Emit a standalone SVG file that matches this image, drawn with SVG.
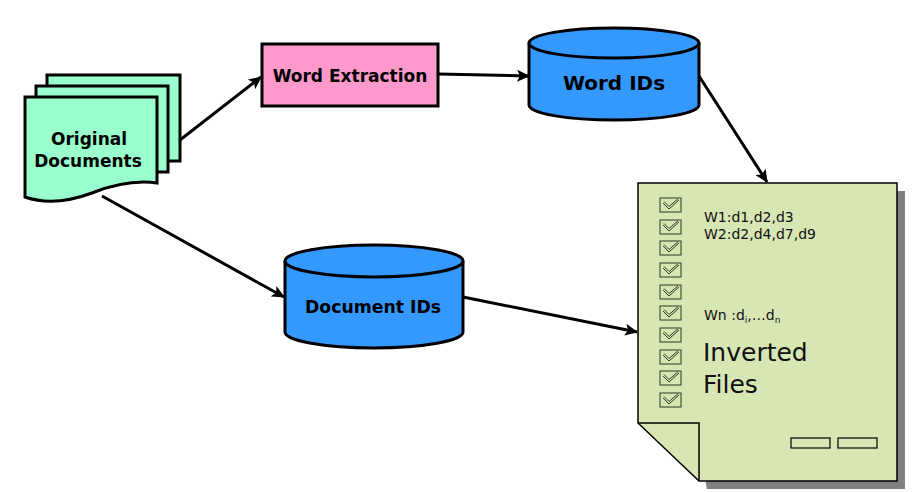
<svg xmlns="http://www.w3.org/2000/svg" width="913" height="492" viewBox="0 0 913 492">
<style>
.doc{fill:#99FFCC;stroke:#000;stroke-width:3}
.b{font-family:"DejaVu Sans",sans-serif;font-weight:bold;fill:#000;text-anchor:middle}
.r{font-family:"DejaVu Sans",sans-serif;fill:#111}
.cyl{fill:#3399FF;stroke:#000;stroke-width:3}
.edge{stroke:#000;stroke-width:3;fill:none;marker-end:url(#ah)}
.cb{fill:none;stroke:#2a3a20;stroke-width:1}
</style>
<defs>
<marker id="ah" markerUnits="userSpaceOnUse" markerWidth="14" markerHeight="12" refX="12" refY="6" orient="auto">
<path d="M0,0 L13,6 L0,12 L3,6 Z" fill="#000"/>
</marker>
<g id="chk">
<rect x="0" y="0" width="21" height="14" class="cb"/>
<path d="M3,5 L9,11 L19,2 M4,3.5 L9,8.5 L18,0.8" class="cb"/>
</g>
</defs>
<rect width="913" height="492" fill="#fff"/>

<g id="connectors">
<line x1="180" y1="140" x2="261" y2="77" class="edge"/>
<line x1="438" y1="74" x2="529" y2="76" class="edge"/>
<line x1="699" y1="76" x2="767" y2="182" class="edge"/>
<line x1="102" y1="196" x2="284" y2="297" class="edge"/>
<line x1="463" y1="297" x2="637" y2="332" class="edge"/>
</g>

<g id="original-documents">
<rect x="47" y="75" width="133" height="86" class="doc"/>
<rect x="36" y="86" width="132" height="86" class="doc"/>
<path d="M25,97 H157 V183 C135,180 115,184 92,193 C65,203 42,203 25,197 Z" class="doc"/>
<text class="b" font-size="17" x="89" y="145">Original</text>
<text class="b" font-size="17" x="88" y="167">Documents</text>
</g>

<g id="word-extraction">
<rect x="262" y="44" width="176" height="62" fill="#FF99CC" stroke="#000" stroke-width="3"/>
<text class="b" font-size="17" x="350" y="82">Word Extraction</text>
</g>

<g id="word-ids">
<path d="M529,43 V105 A85,15 0 0 0 699,105 V43" class="cyl"/>
<ellipse cx="614" cy="43" rx="85" ry="15" class="cyl"/>
<text class="b" font-size="20" x="614" y="90">Word IDs</text>
</g>

<g id="document-ids">
<path d="M285,261 V332 A89,16 0 0 0 463,332 V261" class="cyl"/>
<ellipse cx="374" cy="261" rx="89" ry="16" class="cyl"/>
<text class="b" font-size="17.3" x="373" y="313">Document IDs</text>
</g>

<g id="inverted-files">
<path d="M646,191 H905 V489 H707 Z" fill="#808080"/>
<path d="M638,183 H897 V481 H699 L638,423 Z" fill="#D8E6B4" stroke="#000" stroke-width="1.5"/>
<path d="M638,423 H699 V481" fill="none" stroke="#000" stroke-width="1.5"/>
<use href="#chk" x="660" y="198"/>
<use href="#chk" x="660" y="220"/>
<use href="#chk" x="660" y="241"/>
<use href="#chk" x="660" y="263"/>
<use href="#chk" x="660" y="285"/>
<use href="#chk" x="660" y="306"/>
<use href="#chk" x="660" y="328"/>
<use href="#chk" x="660" y="350"/>
<use href="#chk" x="660" y="371"/>
<use href="#chk" x="660" y="393"/>
<text class="r" font-size="14" x="704" y="222">W1:d1,d2,d3</text>
<text class="r" font-size="14" x="704" y="239">W2:d2,d4,d7,d9</text>
<text class="r" font-size="14" x="704" y="320">Wn :d<tspan font-size="9" dy="3">i</tspan><tspan dy="-3">,…d</tspan><tspan font-size="9" dy="3">n</tspan></text>
<text class="r" font-size="25" x="703" y="361">Inverted</text>
<text class="r" font-size="25" x="703" y="393">Files</text>
<rect x="791" y="438" width="39" height="10" fill="none" stroke="#000" stroke-width="1.2"/>
<rect x="838" y="438" width="39" height="10" fill="none" stroke="#000" stroke-width="1.2"/>
</g>
</svg>
